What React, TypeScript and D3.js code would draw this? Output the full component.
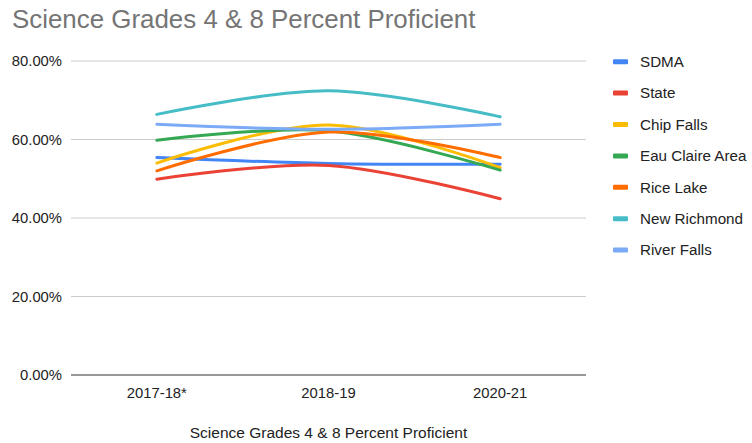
import React from "react";
import * as d3 from "d3";

const categories = ["2017-18*", "2018-19", "2020-21"];
const seriesNames = ["SDMA", "State", "Chip Falls", "Eau Claire Area", "Rice Lake", "New Richmond", "River Falls"];
const sdma = [55.4, 53.9, 53.7];
const state = [49.9, 53.4, 44.9];
const chipFalls = [54.0, 63.7, 52.8];
const eauClaire = [59.8, 62.2, 52.2];
const riceLake = [52.0, 61.9, 55.4];
const newRichmond = [66.4, 72.4, 65.8];
const riverFalls = [63.9, 62.6, 63.9];
const yTicks = [0, 20, 40, 60, 80];
const colors = ["#4285F4", "#EA4335", "#FBBC04", "#34A853", "#FF6D01", "#46BDC6", "#7BAAF7"];

const allSeries = [sdma, state, chipFalls, eauClaire, riceLake, newRichmond, riverFalls];

export default function App() {
  const W = 752, H = 443;
  const left = 71, right = 586, top = 61, bottom = 375;
  const x = d3.scaleBand<string>().domain(categories).range([left, right]);
  const y = d3.scaleLinear().domain([0, 80]).range([bottom, top]);
  const line = d3
    .line<number>()
    .x((_, i) => (x(categories[i]) as number) + x.bandwidth() / 2)
    .y((d) => y(d))
    .curve(d3.curveCatmullRom.alpha(0.5));
  const font = "Arial, 'Liberation Sans', sans-serif";
  return (
    <svg width={W} height={H} style={{ position: "absolute", left: 0, top: 0, background: "#fff" }} fontFamily={font}>
      <rect x={0} y={0} width={W} height={H} fill="#fff" />
      <text x={12} y={28} fontSize={25.9} fill="#757575">Science Grades 4 &amp; 8 Percent Proficient</text>
      {yTicks.map((t) => (
        <g key={t}>
          {t !== 0 && <line x1={left} x2={right} y1={y(t)} y2={y(t)} stroke="#cccccc" strokeWidth={1} />}
          <text x={62} y={y(t)} dy="0.35em" textAnchor="end" fontSize={14.8} fill="#222">
            {t.toFixed(2) + "%"}
          </text>
        </g>
      ))}
      <line x1={left} x2={right} y1={y(0)} y2={y(0)} stroke="#333" strokeWidth={1} />
      {categories.map((c) => (
        <text key={c} x={(x(c) as number) + x.bandwidth() / 2} y={398} textAnchor="middle" fontSize={14.8} fill="#222">
          {c}
        </text>
      ))}
      <text x={(left + right) / 2} y={438} textAnchor="middle" fontSize={15.5} fill="#222">
        Science Grades 4 &amp; 8 Percent Proficient
      </text>
      {allSeries.map((s, i) => (
        <path key={i} d={line(s) || ""} fill="none" stroke={colors[i]} strokeWidth={3} strokeLinecap="round" />
      ))}
      {seriesNames.map((n, i) => (
        <g key={n} transform={`translate(613, ${61.7 + i * 31.4})`}>
          <rect x={0} y={-2.5} width={15} height={5} rx={1} fill={colors[i]} />
          <text x={27} y={0} dy="0.35em" fontSize={15.2} fill="#222">{n}</text>
        </g>
      ))}
    </svg>
  );
}
